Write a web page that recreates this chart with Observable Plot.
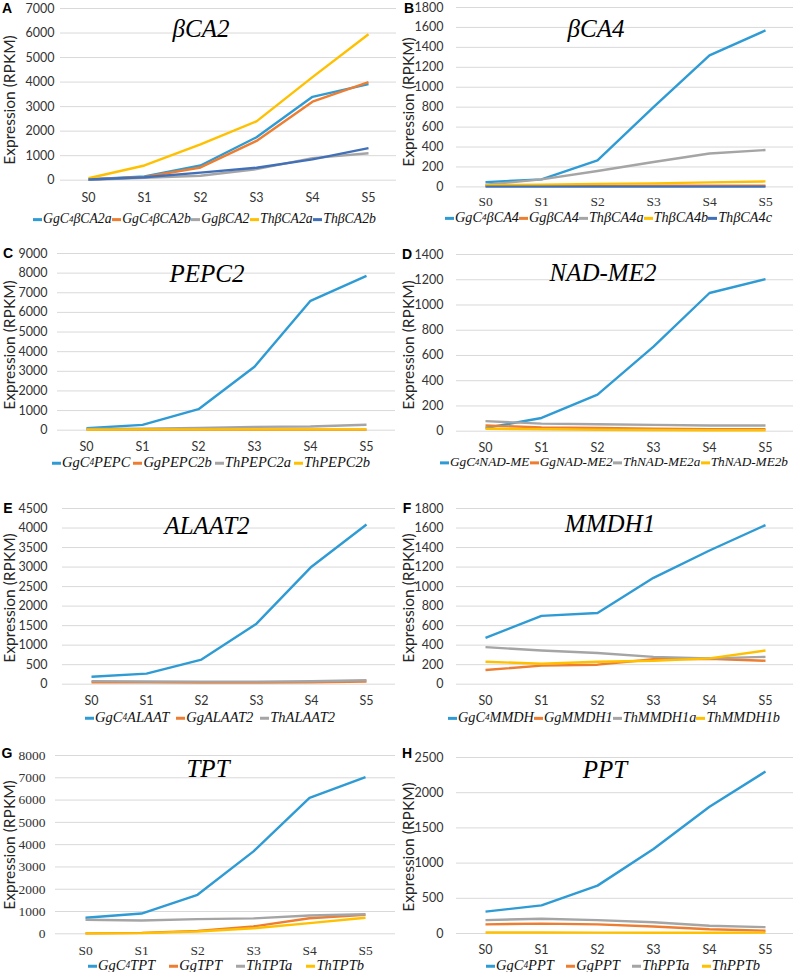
<!DOCTYPE html>
<html><head><meta charset="utf-8">
<script src="https://cdn.jsdelivr.net/npm/d3@7"></script>
<script src="https://cdn.jsdelivr.net/npm/@observablehq/plot@0.6"></script>
<style>
html,body{margin:0;padding:0;background:#fff;}
#root{position:relative;width:797px;height:972px;overflow:hidden;background:#fff;}
.abs{position:absolute;}
.title{font-family:"Liberation Serif","DejaVu Serif",serif;font-style:italic;font-size:25px;line-height:1;white-space:nowrap;transform:translate(-50%,-50%);color:#000;}
.letter{font-family:"Liberation Sans",Arial,sans-serif;font-weight:bold;font-size:14px;line-height:1;transform:translate(-50%,-50%);color:#000;}
.ylab{font-family:Lato,"Open Sans",sans-serif;font-size:15.5px;line-height:1;white-space:nowrap;transform:translate(-50%,-50%) rotate(-90deg);color:#262626;}
.legend{display:flex;justify-content:space-between;align-items:center;transform:translateY(-50%);font-family:"Liberation Serif",serif;font-style:italic;line-height:1;white-space:nowrap;color:#111;}
.item{display:flex;align-items:center;flex-shrink:0;}
.mk{display:inline-block;width:9px;height:2.8px;margin-right:1px;margin-top:2px;}
sub{font-size:0.65em;vertical-align:-0.3em;line-height:0;}
</style></head>
<body><div id="root"></div>
<script>
const stages = ["S0","S1","S2","S3","S4","S5"];
const blue = "#2F9BD4", orange = "#ED7D31", gray = "#A5A5A5", yellow = "#FFC000", darkBlue = "#4270B8";

// Panel A
const aNames = ["GgC4βCA2a","GgC4βCA2b","GgβCA2","ThβCA2a","ThβCA2b"];
const aValues = [
  [30,150,600,1750,3400,3920],
  [30,130,520,1600,3200,4000],
  [20,100,180,450,900,1100],
  [80,600,1460,2400,4200,5950],
  [30,120,310,510,850,1310]];
const aTicks = [0,1000,2000,3000,4000,5000,6000,7000];

// Panel B
const bNames = ["GgC4βCA4","GgβCA4","ThβCA4a","ThβCA4b","ThβCA4c"];
const bValues = [
  [48,75,265,800,1320,1570],
  [10,10,10,12,12,12],
  [22,75,160,250,335,370],
  [16,22,30,35,45,55],
  [3,3,3,3,3,3]];
const bTicks = [0,200,400,600,800,1000,1200,1400,1600,1800];

// Panel C
const cNames = ["GgC4PEPC","GgPEPC2b","ThPEPC2a","ThPEPC2b"];
const cValues = [
  [100,270,1070,3230,6590,7860],
  [30,30,30,30,30,30],
  [60,80,110,170,190,280],
  [30,40,40,40,40,40]];
const cTicks = [0,1000,2000,3000,4000,5000,6000,7000,8000,9000];

// Panel D
const dNames = ["GgC4NAD-ME","GgNAD-ME2","ThNAD-ME2a","ThNAD-ME2b"];
const dValues = [
  [25,105,290,670,1095,1205],
  [45,30,25,20,15,15],
  [80,60,55,50,45,45],
  [20,15,12,10,8,8]];
const dTicks = [0,200,400,600,800,1000,1200,1400];

// Panel E
const eNames = ["GgC4ALAAT","GgALAAT2","ThALAAT2"];
const eValues = [
  [190,270,630,1550,3010,4090],
  [50,50,45,45,50,70],
  [80,70,65,65,75,100]];
const eTicks = [0,500,1000,1500,2000,2500,3000,3500,4000,4500];

// Panel F
const fNames = ["GgC4MMDH","GgMMDH1","ThMMDH1a","ThMMDH1b"];
const fValues = [
  [475,700,730,1090,1370,1630],
  [145,190,200,255,260,240],
  [380,345,320,280,265,280],
  [230,210,230,240,265,345]];
const fTicks = [0,200,400,600,800,1000,1200,1400,1600,1800];

// Panel G
const gNames = ["GgC4TPT","GgTPT","ThTPTa","ThTPTb"];
const gValues = [
  [720,910,1750,3700,6100,7030],
  [20,40,130,330,700,850],
  [630,600,660,690,820,880],
  [20,30,100,250,480,720]];
const gTicks = [0,1000,2000,3000,4000,5000,6000,7000,8000];

// Panel H
const hNames = ["GgC4PPT","GgPPT","ThPPTa","ThPPTb"];
const hValues = [
  [310,400,680,1200,1800,2300],
  [130,140,130,100,60,40],
  [190,210,190,160,110,90],
  [15,15,12,10,10,12]];
const hTicks = [0,500,1000,1500,2000,2500];

const titles = ["βCA2","βCA4","PEPC2","NAD-ME2","ALAAT2","MMDH1","TPT","PPT"];
const letters = ["A","B","C","D","E","F","G","H"];

const SANS = "Lato, 'Open Sans', sans-serif";
const SERIF = "'Liberation Serif', serif";

const panels = [
  {names:aNames, values:aValues, ticks:aTicks, colors:[blue,orange,gray,yellow,darkBlue],
   left:0, frameL:60, frameR:396, yTop:8.3, y0:180, tickRight:54, tickFont:SANS, xFont:SANS, xPad:13,
   legY:219, legL:33, legR:376, legFs:15, titleX:201, titleY:28.3, letX:7, letY:8, ylabX:10, ylabY:100},
  {names:bNames, values:bValues, ticks:bTicks, colors:[blue,orange,gray,yellow,darkBlue],
   left:398, frameL:456, frameR:793, yTop:7.3, y0:186.7, tickRight:443, tickFont:SANS, xFont:SERIF, xPad:10,
   legY:217, legL:445, legR:772, legFs:14.5, titleX:596, titleY:28.3, letX:409, letY:8, ylabX:409, ylabY:102},
  {names:cNames, values:cValues, ticks:cTicks, colors:[blue,orange,gray,yellow],
   left:0, frameL:57, frameR:395, yTop:253.3, y0:430, tickRight:47, tickFont:SANS, xFont:SANS, xPad:12,
   legY:462, legL:52, legR:370, legFs:14.5, titleX:207, titleY:273.3, letX:8, letY:253, ylabX:10, ylabY:345},
  {names:dNames, values:dValues, ticks:dTicks, colors:[blue,orange,gray,yellow],
   left:398, frameL:456, frameR:793, yTop:254, y0:430.7, tickRight:443, tickFont:SANS, xFont:SANS, xPad:11.5,
   legY:462, legL:440, legR:788, legFs:14, titleX:603, titleY:272.3, letX:407, letY:254, ylabX:409, ylabY:345},
  {names:eNames, values:eValues, ticks:eTicks, colors:[blue,orange,gray],
   left:0, frameL:62, frameR:395, yTop:508.3, y0:684, tickRight:47, tickFont:SANS, xFont:SANS, xPad:11.5,
   legY:717, legL:85, legR:335, legFs:14.5, titleX:207, titleY:524.7, letX:8, letY:508, ylabX:10, ylabY:598},
  {names:fNames, values:fValues, ticks:fTicks, colors:[blue,orange,gray,yellow],
   left:398, frameL:456, frameR:793, yTop:508.3, y0:684, tickRight:443, tickFont:SANS, xFont:SANS, xPad:11.5,
   legY:717, legL:448, legR:780, legFs:14.5, titleX:610, titleY:523.3, letX:407, letY:508, ylabX:409, ylabY:598},
  {names:gNames, values:gValues, ticks:gTicks, colors:[blue,orange,gray,yellow],
   left:0, frameL:55, frameR:395, yTop:755, y0:933.3, tickRight:45, tickFont:SERIF, xFont:SERIF, xPad:11.5,
   legY:965, legL:88, legR:364, legFs:14.5, titleX:208, titleY:767.5, letX:7, letY:753, ylabX:10, ylabY:845},
  {names:hNames, values:hValues, ticks:hTicks, colors:[blue,orange,gray,yellow],
   left:398, frameL:456, frameR:793, yTop:757.3, y0:933.3, tickRight:443, tickFont:SANS, xFont:SANS, xPad:11.5,
   legY:965, legL:486, legR:760, legFs:14.5, titleX:605, titleY:769, letX:407, letY:753, ylabX:409, ylabY:847}
];

const root = document.getElementById("root");
function addDiv(cls, x, y, html) {
  const d = document.createElement("div");
  d.className = "abs " + cls;
  d.style.left = x + "px"; d.style.top = y + "px";
  d.innerHTML = html;
  root.appendChild(d);
  return d;
}
function fmtName(n) { return n.replace(/^GgC4/, "GgC<sub>4</sub>"); }

panels.forEach((p, k) => {
  const W = 399;
  const svgTop = p.yTop - 12;
  const height = Math.round(p.y0 - svgTop + 32);
  const data = p.names.flatMap((n, i) => stages.map((s, j) => ({series: n, stage: s, value: p.values[i][j]})));
  const ySize = p.tickFont === SERIF ? 13.5 : 12.5;
  const xSize = p.xFont === SERIF ? 13.5 : 12.5;
  const chart = Plot.plot({
    width: W, height,
    marginTop: p.yTop - svgTop,
    marginBottom: height - (p.y0 - svgTop),
    marginLeft: p.frameL - p.left,
    marginRight: p.left + W - p.frameR,
    x: {type: "point", domain: stages, padding: 0.5},
    y: {domain: [0, p.ticks[p.ticks.length - 1]]},
    style: {background: "transparent", overflow: "visible"},
    marks: [
      Plot.ruleY(p.ticks, {stroke: "#D9D9D9", strokeWidth: 1}),
      Plot.axisY({ticks: p.ticks, tickSize: 0, tickPadding: p.frameL - p.tickRight, label: null,
        tickFormat: d => String(d), fontFamily: p.tickFont, fontSize: ySize, fill: "#333"}),
      Plot.axisX({tickSize: 0, tickPadding: p.xPad, label: null,
        fontFamily: p.xFont, fontSize: xSize, fill: "#333"}),
      ...p.names.map((n, i) => Plot.line(data.filter(d => d.series === n),
        {x: "stage", y: "value", stroke: p.colors[i], strokeWidth: 2.4, strokeLinejoin: "round", strokeLinecap: "butt"}))
    ]
  });
  const holder = addDiv("", p.left, svgTop, "");
  holder.appendChild(chart);

  addDiv("title", p.titleX, p.titleY, titles[k]);
  addDiv("letter", p.letX, p.letY, letters[k]);
  addDiv("ylab", p.ylabX, p.ylabY, "Expression (RPKM)");
  const leg = addDiv("legend", p.legL, p.legY,
    p.names.map((n, i) => `<span class="item"><span class="mk" style="background:${p.colors[i]}"></span>${fmtName(n)}</span>`).join(""));
  const target = p.legR - p.legL;
  leg.style.width = target + "px";
  let fs = p.legFs;
  leg.style.fontSize = fs + "px";
  let natural = Array.from(leg.children).reduce((s, c) => s + c.getBoundingClientRect().width, 0);
  while (natural > target && fs > 10) {
    fs -= 0.25;
    leg.style.fontSize = fs + "px";
    natural = Array.from(leg.children).reduce((s, c) => s + c.getBoundingClientRect().width, 0);
  }
});
</script>
</body></html>
